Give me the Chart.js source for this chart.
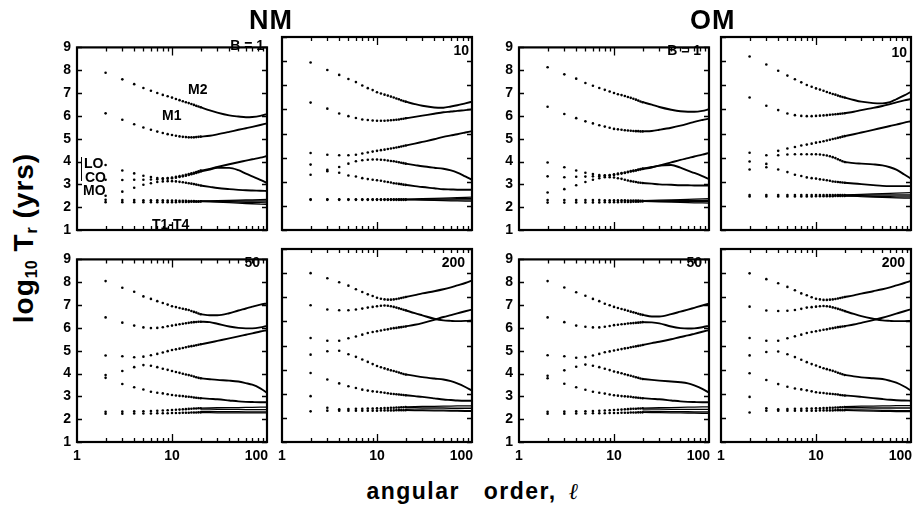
<!DOCTYPE html>
<html>
<head>
<meta charset="utf-8">
<script src="https://cdn.jsdelivr.net/npm/chart.js@4.4.1/dist/chart.umd.min.js"></script>
<style>
    body { margin: 0; width: 924px; height: 518px; position: relative; overflow: hidden; background: #fff;
           font-family: 'Liberation Sans', Arial, sans-serif; font-weight: bold; color: #000; }
    canvas { position: absolute; }
    .txt { position: absolute; white-space: nowrap; line-height: 1; z-index: 5; }
    .ann { font-size: 14px; }
    .grp { font-size: 27px; letter-spacing: 1px; top: 7px; }
    #ytitle { font-size: 28px; letter-spacing: 1px; left: 25px; top: 238px; transform: translate(-50%, -50%) rotate(-90deg); }
    #ytitle sub { font-size: 16px; vertical-align: -4px; letter-spacing: 0; }
    #xtitle { font-size: 23px; letter-spacing: 1.5px; word-spacing: 4px; left: 473px; top: 480px; transform: translateX(-50%); }
    #bracket { position: absolute; left: 81px; top: 157px; width: 0; height: 24px; border-left: 1.5px solid #000; z-index: 5; }
</style>
</head>
<body>
<div class="txt grp" style="left:249px">NM</div>
<div class="txt grp" style="left:690px">OM</div>
<div class="txt" id="ytitle">log<sub>10</sub>&nbsp;T<sub>r</sub>&nbsp;(yrs)</div>
<div class="txt" id="xtitle">angular&nbsp; order, <span style="font-family:'DejaVu Serif',serif;font-style:italic;font-weight:normal">ℓ</span></div>
<div class="txt ann" style="left:188px;top:82px">M2</div>
<div class="txt ann" style="left:162px;top:108px">M1</div>
<div class="txt ann" style="left:84px;top:156px">LO</div>
<div class="txt ann" style="left:85px;top:170px">CO</div>
<div class="txt ann" style="left:83px;top:183px">MO</div>
<div class="txt ann" style="left:152px;top:217px">T1-T4</div>
<div id="bracket"></div>
<script>
    // orders: dots for l = 2..20, smooth lines from l = 20 on
    const dotOrders = [2, 3, 4, 5, 6, 7, 8, 9, 10, 11, 12, 13, 14, 15, 16, 17, 18, 19, 20]
    const lineOrders = [20, 25, 30, 40, 50, 60, 70, 85, 100]
    const xTickValues = [1, 10, 100]
    const yTickValues = [1, 2, 3, 4, 5, 6, 7, 8, 9]
    const xMarkValues = [2, 3, 4, 5, 6, 7, 8, 9, 10, 20, 30, 40, 50, 60, 70, 80, 90]
    const panelTags = ['B = 1', '10', 'B = 1', '10', '50', '200', '50', '200']

    // log10 Tr, first 19 values at dotOrders, last 8 at lineOrders[1..]
    // NM, B = 1
    const nm1_M2 = [7.89, 7.6, 7.39, 7.22, 7.1, 7.0, 6.92, 6.86, 6.8, 6.74, 6.69, 6.64, 6.6, 6.56, 6.52, 6.48, 6.44, 6.41, 6.38, 6.24, 6.14, 6.02, 5.97, 5.94, 5.95, 6.0, 6.08]
    const nm1_M1 = [6.11, 5.83, 5.63, 5.49, 5.39, 5.31, 5.25, 5.2, 5.16, 5.13, 5.1, 5.08, 5.07, 5.06, 5.06, 5.06, 5.07, 5.08, 5.09, 5.13, 5.19, 5.3, 5.39, 5.46, 5.52, 5.6, 5.67]
    const nm1_LO = [3.85, 3.61, 3.48, 3.38, 3.32, 3.28, 3.27, 3.28, 3.3, 3.33, 3.36, 3.39, 3.42, 3.45, 3.48, 3.51, 3.54, 3.57, 3.6, 3.68, 3.76, 3.88, 3.97, 4.04, 4.1, 4.17, 4.24]
    const nm1_CO = [3.2, 3.19, 3.2, 3.2, 3.21, 3.22, 3.23, 3.25, 3.27, 3.29, 3.32, 3.35, 3.38, 3.41, 3.44, 3.47, 3.5, 3.53, 3.56, 3.65, 3.72, 3.72, 3.62, 3.47, 3.35, 3.2, 3.06]
    const nm1_MO = [2.5, 2.68, 2.85, 2.98, 3.05, 3.1, 3.13, 3.14, 3.14, 3.13, 3.11, 3.09, 3.07, 3.05, 3.03, 3.01, 2.99, 2.97, 2.95, 2.89, 2.84, 2.79, 2.76, 2.74, 2.73, 2.72, 2.71]
    const nm1_Ta = [2.32, 2.31, 2.31, 2.3, 2.3, 2.3, 2.3, 2.29, 2.29, 2.29, 2.28, 2.28, 2.28, 2.27, 2.27, 2.27, 2.26, 2.26, 2.26]
    const nm1_Tb = [2.22, 2.22, 2.22, 2.22, 2.22, 2.22, 2.22, 2.22, 2.22, 2.22, 2.23, 2.23, 2.23, 2.23, 2.24, 2.24, 2.24, 2.24, 2.25]
    const nm1_T1 = [2.27, 2.28, 2.29, 2.3, 2.31, 2.32, 2.32, 2.33, 2.34]
    const nm1_T2 = [2.26, 2.26, 2.26, 2.26, 2.27, 2.27, 2.27, 2.27, 2.27]
    const nm1_T3 = [2.25, 2.25, 2.24, 2.23, 2.22, 2.21, 2.21, 2.2, 2.19]
    const nm1_T4 = [2.24, 2.23, 2.22, 2.2, 2.18, 2.16, 2.15, 2.13, 2.12]

    // NM, B = 10
    const nm10_M2 = [7.94, 7.63, 7.43, 7.26, 7.13, 6.99, 6.88, 6.8, 6.71, 6.66, 6.61, 6.57, 6.53, 6.49, 6.45, 6.42, 6.38, 6.35, 6.32, 6.22, 6.15, 6.08, 6.07, 6.12, 6.17, 6.25, 6.32]
    const nm10_M1 = [6.28, 6.03, 5.83, 5.72, 5.64, 5.58, 5.56, 5.54, 5.53, 5.53, 5.53, 5.54, 5.55, 5.56, 5.57, 5.58, 5.6, 5.61, 5.63, 5.69, 5.74, 5.82, 5.88, 5.91, 5.94, 5.97, 6.0]
    const nm10_LO = [4.19, 4.12, 4.1, 4.1, 4.12, 4.17, 4.21, 4.25, 4.28, 4.31, 4.33, 4.36, 4.38, 4.4, 4.42, 4.44, 4.46, 4.48, 4.5, 4.58, 4.65, 4.76, 4.86, 4.92, 4.97, 5.04, 5.1]
    const nm10_CO = [3.71, 3.5, 3.61, 3.75, 3.85, 3.89, 3.91, 3.92, 3.92, 3.91, 3.9, 3.88, 3.86, 3.85, 3.83, 3.81, 3.79, 3.77, 3.75, 3.69, 3.64, 3.58, 3.54, 3.47, 3.38, 3.22, 3.08]
    const nm10_MO = [3.29, 3.44, 3.37, 3.26, 3.22, 3.15, 3.11, 3.08, 3.06, 3.04, 3.01, 2.99, 2.97, 2.94, 2.93, 2.91, 2.9, 2.88, 2.87, 2.82, 2.78, 2.73, 2.69, 2.68, 2.67, 2.67, 2.67]
    const nm10_Ta = [2.27, 2.27, 2.27, 2.27, 2.27, 2.27, 2.27, 2.27, 2.27, 2.27, 2.27, 2.27, 2.27, 2.27, 2.27, 2.27, 2.27, 2.27, 2.27]
    const nm10_Tb = [2.25, 2.25, 2.25, 2.25, 2.25, 2.25, 2.25, 2.25, 2.25, 2.25, 2.25, 2.25, 2.25, 2.25, 2.25, 2.25, 2.25, 2.25, 2.25]
    const nm10_T1 = [2.28, 2.29, 2.3, 2.31, 2.32, 2.33, 2.34, 2.35, 2.36]
    const nm10_T2 = [2.27, 2.27, 2.28, 2.28, 2.29, 2.29, 2.3, 2.3, 2.3]
    const nm10_T3 = [2.26, 2.26, 2.26, 2.25, 2.25, 2.25, 2.25, 2.25, 2.25]
    const nm10_T4 = [2.25, 2.25, 2.24, 2.23, 2.22, 2.21, 2.21, 2.2, 2.2]

    // OM, B = 1
    const om1_M2 = [8.13, 7.82, 7.63, 7.44, 7.32, 7.22, 7.14, 7.07, 7.0, 6.95, 6.91, 6.87, 6.83, 6.79, 6.75, 6.71, 6.67, 6.63, 6.6, 6.49, 6.39, 6.27, 6.2, 6.18, 6.18, 6.22, 6.29]
    const om1_M1 = [6.4, 6.08, 5.9, 5.76, 5.67, 5.59, 5.53, 5.48, 5.43, 5.41, 5.39, 5.37, 5.36, 5.35, 5.34, 5.33, 5.33, 5.32, 5.32, 5.34, 5.39, 5.48, 5.57, 5.66, 5.74, 5.82, 5.88]
    const om1_LO = [3.96, 3.75, 3.61, 3.51, 3.45, 3.41, 3.4, 3.41, 3.44, 3.47, 3.5, 3.52, 3.55, 3.58, 3.6, 3.62, 3.65, 3.67, 3.69, 3.76, 3.82, 3.96, 4.07, 4.15, 4.22, 4.3, 4.38]
    const om1_CO = [3.35, 3.31, 3.33, 3.34, 3.35, 3.36, 3.37, 3.39, 3.41, 3.44, 3.47, 3.5, 3.53, 3.56, 3.58, 3.61, 3.63, 3.65, 3.67, 3.74, 3.82, 3.85, 3.73, 3.6, 3.5, 3.36, 3.23]
    const om1_MO = [2.64, 2.79, 2.96, 3.1, 3.2, 3.27, 3.31, 3.31, 3.3, 3.27, 3.24, 3.2, 3.17, 3.14, 3.12, 3.1, 3.08, 3.07, 3.06, 3.03, 3.0, 2.98, 2.96, 2.96, 2.95, 2.95, 2.95]
    const om1_Ta = [2.31, 2.31, 2.31, 2.31, 2.31, 2.31, 2.3, 2.3, 2.3, 2.3, 2.3, 2.3, 2.29, 2.29, 2.29, 2.29, 2.29, 2.28, 2.28]
    const om1_Tb = [2.2, 2.2, 2.21, 2.21, 2.21, 2.21, 2.22, 2.22, 2.22, 2.22, 2.23, 2.23, 2.23, 2.23, 2.24, 2.24, 2.24, 2.25, 2.25]
    const om1_T1 = [2.29, 2.3, 2.31, 2.32, 2.33, 2.34, 2.35, 2.36, 2.37]
    const om1_T2 = [2.28, 2.28, 2.28, 2.29, 2.29, 2.29, 2.3, 2.3, 2.3]
    const om1_T3 = [2.26, 2.26, 2.26, 2.25, 2.25, 2.25, 2.24, 2.24, 2.24]
    const om1_T4 = [2.25, 2.24, 2.23, 2.22, 2.21, 2.2, 2.19, 2.19, 2.18]

    // OM, B = 10
    const om10_M2 = [8.19, 7.86, 7.6, 7.4, 7.25, 7.12, 7.01, 6.94, 6.87, 6.82, 6.77, 6.72, 6.68, 6.64, 6.61, 6.57, 6.54, 6.51, 6.49, 6.39, 6.32, 6.26, 6.25, 6.3, 6.42, 6.58, 6.73]
    const om10_M1 = [6.49, 6.15, 5.97, 5.83, 5.76, 5.73, 5.72, 5.72, 5.73, 5.74, 5.75, 5.76, 5.78, 5.79, 5.8, 5.81, 5.82, 5.83, 5.84, 5.9, 5.97, 6.06, 6.14, 6.22, 6.29, 6.37, 6.43]
    const om10_LO = [4.2, 4.1, 4.28, 4.38, 4.44, 4.5, 4.54, 4.58, 4.62, 4.65, 4.68, 4.71, 4.74, 4.77, 4.79, 4.82, 4.84, 4.87, 4.89, 4.97, 5.04, 5.15, 5.24, 5.31, 5.37, 5.45, 5.51]
    const om10_CO = [3.84, 3.74, 4.1, 4.13, 4.14, 4.14, 4.14, 4.14, 4.14, 4.13, 4.11, 4.09, 4.06, 4.02, 3.98, 3.93, 3.89, 3.85, 3.82, 3.77, 3.75, 3.72, 3.68, 3.6, 3.5, 3.3, 3.13]
    const om10_MO = [3.51, 3.6, 3.51, 3.4, 3.29, 3.24, 3.18, 3.15, 3.13, 3.1, 3.08, 3.06, 3.04, 3.01, 3.0, 2.99, 2.98, 2.97, 2.96, 2.93, 2.9, 2.86, 2.83, 2.82, 2.82, 2.82, 2.82]
    const om10_Ta = [2.45, 2.45, 2.45, 2.45, 2.45, 2.45, 2.45, 2.45, 2.45, 2.45, 2.45, 2.45, 2.45, 2.45, 2.45, 2.45, 2.45, 2.45, 2.45]
    const om10_Tb = [2.39, 2.39, 2.39, 2.39, 2.39, 2.39, 2.39, 2.39, 2.4, 2.4, 2.4, 2.4, 2.4, 2.4, 2.41, 2.41, 2.41, 2.41, 2.41]
    const om10_T1 = [2.46, 2.47, 2.48, 2.5, 2.51, 2.52, 2.53, 2.54, 2.55]
    const om10_T2 = [2.44, 2.44, 2.44, 2.45, 2.45, 2.45, 2.45, 2.45, 2.45]
    const om10_T3 = [2.42, 2.41, 2.4, 2.39, 2.38, 2.38, 2.37, 2.37, 2.37]
    const om10_T4 = [2.41, 2.4, 2.38, 2.36, 2.35, 2.34, 2.33, 2.32, 2.32]

    // NM, B = 50
    const nm50_M2 = [8.05, 7.76, 7.58, 7.38, 7.27, 7.17, 7.09, 7.02, 6.95, 6.91, 6.87, 6.84, 6.81, 6.78, 6.74, 6.7, 6.67, 6.63, 6.6, 6.55, 6.55, 6.64, 6.76, 6.85, 6.93, 7.02, 7.07]
    const nm50_M1 = [6.46, 6.23, 6.1, 6.02, 5.99, 6.0, 6.03, 6.07, 6.1, 6.13, 6.16, 6.18, 6.2, 6.22, 6.24, 6.25, 6.26, 6.27, 6.27, 6.25, 6.18, 6.06, 6.0, 5.98, 5.98, 6.02, 6.09]
    const nm50_LO = [4.79, 4.76, 4.71, 4.74, 4.8, 4.86, 4.92, 4.98, 5.03, 5.06, 5.09, 5.12, 5.15, 5.18, 5.2, 5.22, 5.24, 5.26, 5.28, 5.36, 5.43, 5.54, 5.63, 5.7, 5.76, 5.84, 5.9]
    const nm50_CO = [3.93, 4.11, 4.28, 4.37, 4.34, 4.28, 4.21, 4.16, 4.11, 4.07, 4.03, 3.99, 3.96, 3.93, 3.9, 3.87, 3.84, 3.81, 3.79, 3.75, 3.72, 3.69, 3.65, 3.58, 3.51, 3.35, 3.16]
    const nm50_MO = [3.81, 3.54, 3.4, 3.3, 3.2, 3.16, 3.13, 3.09, 3.06, 3.04, 3.02, 3.01, 2.99, 2.98, 2.97, 2.95, 2.94, 2.93, 2.92, 2.89, 2.87, 2.82, 2.78, 2.76, 2.75, 2.74, 2.74]
    const nm50_Ta = [2.32, 2.33, 2.34, 2.35, 2.36, 2.37, 2.38, 2.39, 2.4, 2.41, 2.42, 2.43, 2.44, 2.45, 2.46, 2.47, 2.47, 2.48, 2.48]
    const nm50_Tb = [2.24, 2.24, 2.25, 2.25, 2.25, 2.26, 2.26, 2.26, 2.27, 2.27, 2.27, 2.28, 2.28, 2.28, 2.29, 2.29, 2.29, 2.3, 2.3]
    const nm50_T1 = [2.48, 2.49, 2.5, 2.51, 2.51, 2.52, 2.52, 2.53, 2.53]
    const nm50_T2 = [2.44, 2.44, 2.43, 2.43, 2.43, 2.42, 2.42, 2.42, 2.42]
    const nm50_T3 = [2.34, 2.34, 2.33, 2.33, 2.33, 2.32, 2.32, 2.32, 2.32]
    const nm50_T4 = [2.29, 2.29, 2.28, 2.28, 2.28, 2.28, 2.28, 2.28, 2.28]

    // NM, B = 200
    const nm200_M2 = [8.0, 7.79, 7.62, 7.48, 7.33, 7.22, 7.12, 7.05, 6.98, 6.94, 6.91, 6.9, 6.9, 6.91, 6.93, 6.95, 6.97, 6.99, 7.01, 7.09, 7.16, 7.25, 7.33, 7.41, 7.49, 7.59, 7.69]
    const nm200_M1 = [6.67, 6.49, 6.46, 6.46, 6.49, 6.53, 6.57, 6.6, 6.63, 6.65, 6.66, 6.65, 6.63, 6.6, 6.57, 6.54, 6.51, 6.48, 6.46, 6.34, 6.25, 6.11, 6.04, 6.02, 6.01, 6.02, 6.04]
    const nm200_LO = [5.31, 5.2, 5.2, 5.3, 5.37, 5.45, 5.52, 5.56, 5.59, 5.62, 5.65, 5.67, 5.7, 5.72, 5.73, 5.75, 5.76, 5.78, 5.79, 5.86, 5.93, 6.06, 6.18, 6.26, 6.33, 6.42, 6.49]
    const nm200_CO = [4.62, 4.76, 4.78, 4.64, 4.53, 4.42, 4.32, 4.23, 4.15, 4.1, 4.05, 4.01, 3.97, 3.94, 3.91, 3.88, 3.85, 3.82, 3.8, 3.74, 3.69, 3.63, 3.59, 3.52, 3.43, 3.28, 3.13]
    const nm200_MO = [3.86, 3.59, 3.43, 3.31, 3.24, 3.17, 3.13, 3.1, 3.08, 3.06, 3.04, 3.02, 3.0, 2.99, 2.98, 2.97, 2.96, 2.95, 2.94, 2.9, 2.87, 2.81, 2.76, 2.74, 2.72, 2.71, 2.71]
    const nm200_Ta = [2.9, 2.42, 2.36, 2.37, 2.38, 2.38, 2.39, 2.39, 2.4, 2.4, 2.41, 2.41, 2.42, 2.42, 2.43, 2.43, 2.44, 2.44, 2.45]
    const nm200_Tb = [2.27, 2.3, 2.3, 2.3, 2.3, 2.3, 2.3, 2.3, 2.3, 2.31, 2.31, 2.31, 2.31, 2.31, 2.32, 2.32, 2.32, 2.32, 2.32]
    const nm200_T1 = [2.46, 2.47, 2.48, 2.48, 2.49, 2.49, 2.5, 2.5, 2.5]
    const nm200_T2 = [2.42, 2.42, 2.41, 2.41, 2.41, 2.4, 2.4, 2.4, 2.4]
    const nm200_T3 = [2.34, 2.33, 2.33, 2.32, 2.32, 2.31, 2.31, 2.3, 2.3]
    const nm200_T4 = [2.31, 2.3, 2.3, 2.29, 2.29, 2.28, 2.28, 2.27, 2.27]

    // OM, B = 50
    const om50_M2 = [8.05, 7.77, 7.56, 7.41, 7.27, 7.17, 7.06, 6.99, 6.92, 6.87, 6.83, 6.79, 6.75, 6.71, 6.68, 6.65, 6.62, 6.59, 6.57, 6.5, 6.5, 6.6, 6.71, 6.8, 6.88, 6.98, 7.06]
    const om50_M1 = [6.46, 6.25, 6.1, 6.05, 6.02, 6.02, 6.05, 6.08, 6.12, 6.14, 6.16, 6.17, 6.19, 6.2, 6.21, 6.22, 6.23, 6.24, 6.25, 6.24, 6.2, 6.06, 5.99, 5.97, 5.98, 6.03, 6.09]
    const om50_LO = [4.8, 4.76, 4.69, 4.72, 4.79, 4.86, 4.93, 4.97, 5.01, 5.04, 5.07, 5.1, 5.12, 5.15, 5.17, 5.19, 5.21, 5.23, 5.25, 5.33, 5.39, 5.5, 5.6, 5.67, 5.74, 5.83, 5.9]
    const om50_CO = [3.9, 4.14, 4.3, 4.39, 4.34, 4.28, 4.21, 4.15, 4.09, 4.05, 4.01, 3.97, 3.93, 3.9, 3.87, 3.84, 3.81, 3.78, 3.76, 3.72, 3.69, 3.65, 3.62, 3.57, 3.48, 3.33, 3.16]
    const om50_MO = [3.79, 3.55, 3.4, 3.29, 3.2, 3.16, 3.12, 3.08, 3.05, 3.03, 3.01, 3.0, 2.99, 2.98, 2.96, 2.95, 2.94, 2.93, 2.92, 2.89, 2.87, 2.82, 2.78, 2.76, 2.75, 2.74, 2.74]
    const om50_Ta = [2.32, 2.33, 2.34, 2.35, 2.36, 2.37, 2.38, 2.39, 2.4, 2.41, 2.42, 2.43, 2.44, 2.45, 2.46, 2.46, 2.47, 2.47, 2.48]
    const om50_Tb = [2.24, 2.24, 2.25, 2.25, 2.26, 2.26, 2.26, 2.27, 2.27, 2.27, 2.28, 2.28, 2.28, 2.29, 2.29, 2.29, 2.3, 2.3, 2.3]
    const om50_T1 = [2.48, 2.49, 2.5, 2.51, 2.52, 2.53, 2.53, 2.54, 2.54]
    const om50_T2 = [2.44, 2.44, 2.44, 2.43, 2.43, 2.43, 2.43, 2.43, 2.43]
    const om50_T3 = [2.35, 2.34, 2.34, 2.33, 2.33, 2.33, 2.32, 2.32, 2.32]
    const om50_T4 = [2.3, 2.29, 2.29, 2.28, 2.28, 2.27, 2.27, 2.26, 2.26]

    // OM, B = 200
    const om200_M2 = [7.99, 7.75, 7.58, 7.43, 7.29, 7.16, 7.08, 7.0, 6.94, 6.91, 6.89, 6.89, 6.9, 6.91, 6.93, 6.95, 6.97, 6.99, 7.01, 7.08, 7.15, 7.25, 7.33, 7.41, 7.49, 7.59, 7.68]
    const om200_M1 = [6.61, 6.45, 6.43, 6.44, 6.47, 6.52, 6.57, 6.59, 6.61, 6.63, 6.64, 6.63, 6.61, 6.58, 6.55, 6.52, 6.49, 6.46, 6.43, 6.31, 6.22, 6.11, 6.04, 6.02, 6.01, 6.01, 6.02]
    const om200_LO = [5.31, 5.2, 5.2, 5.3, 5.38, 5.45, 5.52, 5.56, 5.59, 5.62, 5.65, 5.67, 5.7, 5.72, 5.74, 5.76, 5.77, 5.79, 5.8, 5.87, 5.94, 6.05, 6.15, 6.24, 6.32, 6.42, 6.5]
    const om200_CO = [4.59, 4.73, 4.75, 4.64, 4.52, 4.41, 4.31, 4.23, 4.17, 4.11, 4.06, 4.02, 3.98, 3.95, 3.91, 3.87, 3.84, 3.81, 3.78, 3.72, 3.68, 3.64, 3.61, 3.54, 3.46, 3.3, 3.13]
    const om200_MO = [3.85, 3.57, 3.4, 3.29, 3.22, 3.18, 3.14, 3.1, 3.06, 3.04, 3.03, 3.01, 3.0, 2.99, 2.98, 2.97, 2.95, 2.94, 2.93, 2.9, 2.87, 2.82, 2.78, 2.75, 2.73, 2.72, 2.71]
    const om200_Ta = [2.87, 2.4, 2.36, 2.37, 2.38, 2.38, 2.39, 2.39, 2.4, 2.4, 2.41, 2.41, 2.42, 2.42, 2.43, 2.43, 2.44, 2.44, 2.45]
    const om200_Tb = [2.22, 2.3, 2.3, 2.3, 2.3, 2.3, 2.3, 2.3, 2.3, 2.31, 2.31, 2.31, 2.31, 2.31, 2.32, 2.32, 2.32, 2.32, 2.32]
    const om200_T1 = [2.47, 2.48, 2.49, 2.49, 2.5, 2.5, 2.51, 2.51, 2.51]
    const om200_T2 = [2.42, 2.42, 2.42, 2.41, 2.41, 2.41, 2.41, 2.41, 2.41]
    const om200_T3 = [2.34, 2.33, 2.33, 2.32, 2.31, 2.31, 2.3, 2.3, 2.3]
    const om200_T4 = [2.31, 2.3, 2.29, 2.28, 2.27, 2.27, 2.26, 2.26, 2.26]

    const panels = [
        { modes: [nm1_M2, nm1_M1, nm1_LO, nm1_CO, nm1_MO], tDots: [nm1_Ta, nm1_Tb], tLines: [nm1_T1, nm1_T2, nm1_T3, nm1_T4] },
        { modes: [nm10_M2, nm10_M1, nm10_LO, nm10_CO, nm10_MO], tDots: [nm10_Ta, nm10_Tb], tLines: [nm10_T1, nm10_T2, nm10_T3, nm10_T4] },
        { modes: [om1_M2, om1_M1, om1_LO, om1_CO, om1_MO], tDots: [om1_Ta, om1_Tb], tLines: [om1_T1, om1_T2, om1_T3, om1_T4] },
        { modes: [om10_M2, om10_M1, om10_LO, om10_CO, om10_MO], tDots: [om10_Ta, om10_Tb], tLines: [om10_T1, om10_T2, om10_T3, om10_T4] },
        { modes: [nm50_M2, nm50_M1, nm50_LO, nm50_CO, nm50_MO], tDots: [nm50_Ta, nm50_Tb], tLines: [nm50_T1, nm50_T2, nm50_T3, nm50_T4] },
        { modes: [nm200_M2, nm200_M1, nm200_LO, nm200_CO, nm200_MO], tDots: [nm200_Ta, nm200_Tb], tLines: [nm200_T1, nm200_T2, nm200_T3, nm200_T4] },
        { modes: [om50_M2, om50_M1, om50_LO, om50_CO, om50_MO], tDots: [om50_Ta, om50_Tb], tLines: [om50_T1, om50_T2, om50_T3, om50_T4] },
        { modes: [om200_M2, om200_M1, om200_LO, om200_CO, om200_MO], tDots: [om200_Ta, om200_Tb], tLines: [om200_T1, om200_T2, om200_T3, om200_T4] }
    ]

    // page layout of the 8 plot boxes
    const PW = 190, PH = 193, PAD_L = 30, PAD_T = 4, PAD_R = 6, PAD_B = 26
    const boxes = [
        { left: 77, top: 37, yLab: true, xLab: false, inset: 3, base: 13 },
        { left: 282, top: 37, yLab: false, xLab: false, inset: 3, base: 18 },
        { left: 519, top: 37, yLab: true, xLab: false, inset: 8, base: 18 },
        { left: 721, top: 37, yLab: false, xLab: false, inset: 4, base: 20 },
        { left: 77, top: 249, yLab: true, xLab: true, inset: 7, base: 18 },
        { left: 282, top: 249, yLab: false, xLab: true, inset: 7, base: 18 },
        { left: 519, top: 249, yLab: true, xLab: true, inset: 7, base: 18 },
        { left: 721, top: 249, yLab: false, xLab: true, inset: 6, base: 18 }
    ]

    const tickFont = { family: "'Liberation Sans', Arial, sans-serif", size: 14, weight: 'bold' }

    // frame with inward ticks on all four sides, plus x labels (last one flush right)
    const frameTicks = {
        id: 'frameTicks',
        afterDraw(chart, args, opts) {
            const { ctx, chartArea: a, scales: { x, y } } = chart
            ctx.save()
            ctx.strokeStyle = '#000'
            ctx.lineWidth = 1.3
            ctx.beginPath()
            yTickValues.forEach(v => {
                const py = Math.round(y.getPixelForValue(v)) + 0.5
                ctx.moveTo(a.left, py); ctx.lineTo(a.left + 5, py)
                ctx.moveTo(a.right, py); ctx.lineTo(a.right - 5, py)
            })
            xMarkValues.forEach(v => {
                const px = Math.round(x.getPixelForValue(v)) + 0.5
                const len = v === 10 ? 8 : 4
                ctx.moveTo(px, a.top); ctx.lineTo(px, a.top + len)
                ctx.moveTo(px, a.bottom); ctx.lineTo(px, a.bottom - len)
            })
            ctx.stroke()
            ctx.lineWidth = 2.2
            ctx.strokeRect(a.left, a.top, a.width, a.height)
            if (opts.labels) {
                ctx.fillStyle = '#000'
                ctx.font = "bold 14px 'Liberation Sans', Arial, sans-serif"
                ctx.textBaseline = 'top'
                xTickValues.forEach((v, i) => {
                    const px = x.getPixelForValue(v)
                    const last = i === xTickValues.length - 1
                    ctx.textAlign = last ? 'right' : 'center'
                    ctx.fillText(String(v), last ? px + 1 : px, a.bottom + 7)
                })
            }
            ctx.restore()
        }
    }

    function dotSet(vals) {
        return {
            data: dotOrders.map((l, i) => ({ x: l, y: vals[i] })),
            showLine: false, pointRadius: 1.3, pointBackgroundColor: '#000', pointBorderWidth: 0
        }
    }

    function modeSets(vals) {
        const n = dotOrders.length
        return [
            dotSet(vals),
            {
                data: lineOrders.map((l, i) => ({ x: l, y: vals[n - 1 + i] })),
                showLine: true, borderColor: '#000', borderWidth: 1.9, pointRadius: 0,
                cubicInterpolationMode: 'monotone'
            }
        ]
    }

    panels.forEach((p, i) => {
        const box = boxes[i]
        const canvas = document.createElement('canvas')
        canvas.width = PAD_L + PW + PAD_R
        canvas.height = PAD_T + PH + PAD_B
        canvas.style.left = (box.left - PAD_L) + 'px'
        canvas.style.top = (box.top - PAD_T) + 'px'
        document.body.appendChild(canvas)

        const datasets = []
        p.modes.forEach(m => datasets.push(...modeSets(m)))
        p.tDots.forEach(t => datasets.push(dotSet(t)))
        p.tLines.forEach(t => datasets.push({
            data: lineOrders.map((l, k) => ({ x: l, y: t[k] })),
            showLine: true, borderColor: '#000', borderWidth: 1.3, pointRadius: 0
        }))

        new Chart(canvas, {
            type: 'scatter',
            data: { datasets },
            options: {
                responsive: false,
                animation: false,
                devicePixelRatio: 1,
                events: [],
                layout: { padding: { top: PAD_T, right: PAD_R, left: 0, bottom: 0 } },
                plugins: { legend: { display: false }, tooltip: { enabled: false }, frameTicks: { labels: box.xLab } },
                scales: {
                    x: {
                        type: 'logarithmic', min: 1, max: 100,
                        grid: { display: false, drawTicks: false }, border: { display: false },
                        ticks: { display: false },
                        afterFit: s => { s.height = PAD_B }
                    },
                    y: {
                        min: 1, max: 9,
                        grid: { display: false, drawTicks: false }, border: { display: false },
                        afterBuildTicks: s => { s.ticks = yTickValues.map(v => ({ value: v })) },
                        ticks: { display: box.yLab, autoSkip: false, padding: 6, color: '#000', font: tickFont },
                        afterFit: s => { s.width = PAD_L }
                    }
                }
            },
            plugins: [frameTicks]
        })

        // panel tag (B value) in the top right corner
        const tag = document.createElement('div')
        tag.className = 'txt'
        tag.style.fontSize = '14px'
        tag.style.right = (924 - (box.left + PW - box.inset)) + 'px'
        tag.style.top = (box.top + box.base - 12) + 'px'
        tag.textContent = panelTags[i]
        document.body.appendChild(tag)
    })
</script>
</body>
</html>
